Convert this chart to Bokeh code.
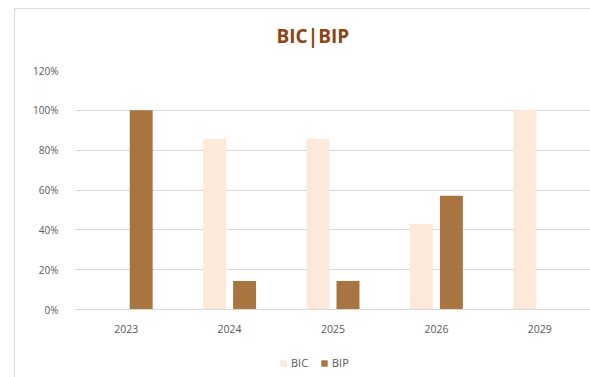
from bokeh.plotting import figure
from bokeh.layouts import column
from bokeh.models import FactorRange, NumeralTickFormatter, FixedTicker, Legend, LegendItem, Title
from bokeh.transform import dodge
from bokeh.embed import file_html
from bokeh.resources import INLINE
from bokeh.models import ColumnDataSource

years = ["2023", "2024", "2025", "2026", "2029"]
bic = [0.0, 0.857, 0.857, 0.429, 1.0]
bip = [1.0, 0.143, 0.143, 0.571, 0.0]
y_ticks = [0, 0.2, 0.4, 0.6, 0.8, 1.0, 1.2]
series_names = ["BIC", "BIP"]
series_colors = ["#FDE9D9", "#A8743F"]

src = ColumnDataSource(dict(years=years, bic=bic, bip=bip))

p = figure(x_range=FactorRange(*years, range_padding=0), y_range=(0, 1.2),
           width=576, height=340, output_backend="svg", toolbar_location=None,
           min_border_left=59, min_border_right=0, min_border_top=61, min_border_bottom=40,
           margin=(8, 0, 0, 14))
p.styles = {"border-left": "1px solid #d9d9d9", "border-top": "1px solid #d9d9d9"}
p.outline_line_color = None
p.background_fill_color = "white"
p.border_fill_color = "white"

p.vbar(x=dodge("years", -0.145, range=p.x_range), top="bic", width=0.222,
       source=src, fill_color=series_colors[0], line_color=None)
p.vbar(x=dodge("years", 0.145, range=p.x_range), top="bip", width=0.222,
       source=src, fill_color=series_colors[1], line_color=None)

p.yaxis.ticker = FixedTicker(ticks=y_ticks)
p.yaxis.formatter = NumeralTickFormatter(format="0%")
p.yaxis.axis_line_color = None
p.yaxis.major_tick_line_color = None
p.yaxis.minor_tick_line_color = None
p.yaxis.major_label_text_font = "Open Sans"
p.yaxis.major_label_text_font_size = "10px"
p.yaxis.major_label_text_color = "#595959"
p.yaxis.major_label_standoff = 10

p.xaxis.axis_line_color = "#d9d9d9"
p.xaxis.major_tick_line_color = None
p.xaxis.major_label_text_font = "Open Sans"
p.xaxis.major_label_text_font_size = "10.5px"
p.xaxis.major_label_text_color = "#595959"
p.xaxis.major_label_standoff = 9

p.xgrid.grid_line_color = None
p.ygrid.grid_line_color = "#d9d9d9"
p.ygrid.grid_line_width = 1

spacer = Title(text=" ", text_font_size="4px")
p.add_layout(spacer, "above")
title = Title(text="BIC|BIP", text_font="Open Sans", text_font_size="19px",
              text_font_style="bold", text_color="#8B4513", align="left", offset=202)
p.add_layout(title, "above")
p.title.visible = False

# legend strip below the chart
leg = figure(width=576, height=29, x_range=(0, 1), y_range=(0, 1),
             x_axis_type=None, y_axis_type=None, output_backend="svg", toolbar_location=None,
             min_border_left=0, min_border_right=0, min_border_top=0, min_border_bottom=0,
             margin=(0, 0, 0, 14))
leg.styles = {"border-left": "1px solid #d9d9d9"}
leg.outline_line_color = None
leg.grid.visible = False
items = []
for name, col in zip(series_names, series_colors):
    r = leg.vbar(x=[0.5], top=[0], bottom=[0], width=0, fill_color=col, line_color=None)
    items.append(LegendItem(label=name, renderers=[r]))
legend = Legend(items=items, orientation="horizontal", location=(205, 7),
                border_line_color=None, background_fill_alpha=0,
                glyph_width=8, glyph_height=8,
                label_text_font="Open Sans", label_text_font_size="11px",
                label_text_color="#595959", spacing=9, label_standoff=4, padding=2, margin=0)
leg.add_layout(legend, "center")

layout = column(p, leg, spacing=0)
open("out.html", "w").write(file_html(layout, INLINE))
